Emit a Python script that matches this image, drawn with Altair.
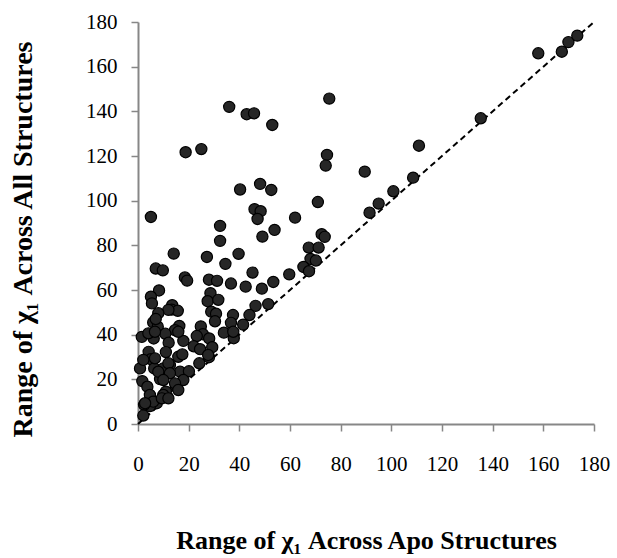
import altair as alt
import pandas as pd

# Range of chi1 across apo structures (x) vs. across all structures (y), degrees
apo_range = [
    158, 167.3, 169.9, 173.4, 135.3, 36, 42.9, 45.8, 53, 75.5,
    18.8, 25, 74.6, 74.1, 89.5, 110.9, 108.6, 100.8, 95, 91.4,
    40.3, 48.2, 52.6, 71, 5.1, 46, 48.4, 47.2, 62, 32.4,
    32.4, 53.9, 49.1, 72.5, 73.7, 67.4, 71.3, 14.1, 27.2, 39.7,
    34.5, 68.1, 70.2, 65.3, 67.5, 7, 9.8, 45.2, 59.7, 18.5,
    19.4, 28, 31.2, 36.7, 42.5, 48.9, 53.4, 8.3, 5.1, 5.5,
    28.6, 27.5, 31.7, 46.4, 51.4, 44, 41.5, 37.5, 36.7, 33.9,
    37.8, 37.6, 28.9, 30.8, 30.4, 13.5, 13.3, 15.7, 12, 8,
    6, 7.8, 7, 16.3, 14.6, 10.8, 6.2, 24.8, 25.6, 23.2,
    17.9, 28.1, 29.3, 22, 24.5, 12.1, 4.2, 5.1, 11, 15.9,
    17.5, 28, 24.2, 0.8, 6.4, 12.6, 16.6, 20.1, 10, 1.7,
    8.7, 15, 17.9, 3.7, 11, 10, 4.7, 7.4, 4.7, 2.4,
    2.1, 1.5, 4.1, 6.7, 15.9, 6.7, 2.1, 12, 27.7, 8,
    12.6, 10, 14.6, 15.9, 6, 9.4, 12, 2.8,
]
all_range = [
    166, 166.7, 171, 173.9, 136.9, 142, 138.7, 139.1, 133.9, 145.7,
    121.7, 123.1, 120.5, 115.7, 113, 124.6, 110.3, 104.2, 98.7, 94.6,
    105, 107.5, 104.8, 99.4, 92.7, 96.2, 95.3, 91.8, 92.4, 88.7,
    82, 86.9, 83.9, 85, 83.8, 79, 79, 76.3, 74.8, 76.2,
    71.7, 73.9, 73.2, 70.3, 68.4, 69.6, 68.8, 67.8, 67, 65.6,
    64.2, 64.6, 64.1, 62.9, 61.5, 60.6, 63.6, 59.8, 57, 54,
    58.6, 55, 55.6, 52.9, 53.7, 48.8, 44.5, 48.8, 45.3, 40.9,
    38.4, 41.3, 50.3, 49.4, 46, 53.2, 51.2, 50.7, 51.1, 49.6,
    45.5, 43.6, 47, 43.9, 42, 40.4, 38.3, 43.7, 40.2, 39.4,
    37.2, 38.3, 34.4, 34.8, 33.5, 36.4, 32.3, 29, 32.2, 30.1,
    31.2, 29.9, 27.2, 24.9, 24.9, 26.4, 23.4, 23.6, 24.9, 19.2,
    20.1, 16.7, 19.7, 16.7, 14.5, 13, 13, 9.3, 8, 8.6,
    3.8, 39, 40.6, 41.3, 41.3, 29.4, 28.7, 27.2, 30.9, 23.4,
    22.7, 19.7, 18.2, 15.2, 10, 11.5, 11.5, 9.3,
]

# Identity line y = x across the full axis range
identity_ends = [0, 180]

points = pd.DataFrame({"apo": apo_range, "all": all_range})
diag = pd.DataFrame({"apo": identity_ends, "all": identity_ends})

FONT = "Liberation Serif"
AXIS_GRAY = "#878787"
minor_vals = list(range(0, 181, 5))
major_only = "datum.value % 20 === 0 ? datum.label : ''"
tick_len = {"condition": {"test": "datum.value % 20 === 0", "value": 7}, "value": 5}

x_scale = alt.Scale(domain=[0, 180], nice=False, zero=True)
y_scale = alt.Scale(domain=[0, 180], nice=False, zero=True)

common = dict(
    values=minor_vals,
    labelExpr=major_only,
    grid=False,
    domainColor=AXIS_GRAY,
    domainWidth=2,
    tickColor=AXIS_GRAY,
    tickWidth=1.5,
    tickSize=tick_len,
    labelFont=FONT,
    labelFontSize=21,
    labelColor="black",
    labelFlush=False,
    labelOverlap=False,
    titleFont=FONT,
    titleFontWeight="bold",
    titleColor="black",
    titleAlign="center",
    titleBaseline="alphabetic",
)

x_axis = alt.Axis(
    labelPadding=22,
    title="Range of χ₁ Across Apo Structures",
    titleFontSize=26,
    titleX=228,
    titleY=124,
    **common,
)

y_axis = alt.Axis(
    labelPadding=14,
    title="Range of χ₁ Across  All Structures",
    titleFontSize=28,
    titleX=-107,
    titleY=217,
    titleAngle=-90,
    **common,
)

line = alt.Chart(diag).mark_line(
    color="black", strokeWidth=2, strokeDash=[6, 4]
).encode(
    x=alt.X("apo:Q", scale=x_scale, axis=x_axis),
    y=alt.Y("all:Q", scale=y_scale, axis=y_axis),
)

dots = alt.Chart(points).mark_point(
    filled=True, shape="circle", size=125,
    fill="#262626", stroke="black", strokeWidth=1.2, opacity=1,
).encode(
    x=alt.X("apo:Q", scale=x_scale),
    y=alt.Y("all:Q", scale=y_scale),
)

chart = alt.layer(line, dots).properties(
    width=456,
    height=402,
    autosize=alt.AutoSizeParams(type="none"),
    padding={"left": 138, "top": 22, "right": 23, "bottom": 134},
    background="white",
).configure_view(stroke=None)

chart.save("out.html", embed_options={"renderer": "svg", "actions": False})
